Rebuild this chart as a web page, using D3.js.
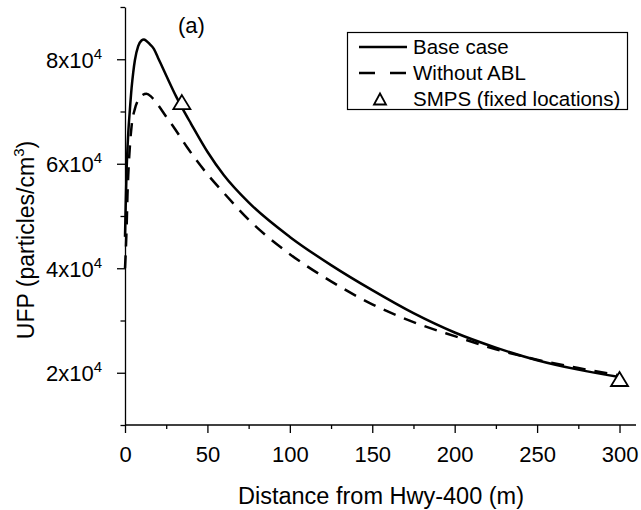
<!DOCTYPE html>
<html>
<head>
<meta charset="utf-8">
<script src="https://cdn.jsdelivr.net/npm/d3@7/dist/d3.min.js"></script>
<style>
  html, body { margin: 0; padding: 0; background: #fff; }
  svg { display: block; font-family: "Liberation Sans", Arial, sans-serif; }
  .axis path, .axis line { stroke: #000; stroke-width: 1.3; }
  .axis text { fill: #000; font-size: 22px; }
</style>
</head>
<body>
<svg id="chart" width="641" height="510"></svg>
<script>
// UFP vs distance from highway, panel (a)
var baseX = [0, 0.5, 1, 1.5, 2, 3, 4, 5, 6, 8, 10, 11.5, 13, 15, 17.5, 20, 25, 31, 35, 40, 50, 60, 75, 100, 125, 150, 175, 200, 225, 250, 275, 300];
var baseY = [46000, 53000, 59000, 63000, 66000, 70500, 74500, 77500, 79800, 82500, 83600, 83800, 83500, 82900, 82000, 80300, 76900, 72900, 70500, 67700, 62300, 57800, 52600, 46000, 40600, 35800, 31400, 27700, 24800, 22400, 20600, 19200];

var ablX = [0, 1, 1.5, 2, 3, 4, 6, 8, 10, 13, 16, 19, 25, 30, 38, 50, 60, 75, 100, 125, 150, 175, 200, 225, 250, 275, 300];
var ablY = [40000, 48000, 54000, 58000, 63500, 67200, 70500, 72200, 73000, 73400, 72800, 71700, 69000, 66800, 63000, 58000, 54400, 49300, 42700, 37500, 33100, 29700, 27000, 24500, 22500, 20900, 19500];

var smpsX = [34.5, 300];
var smpsY = [71800, 18800];

var xMajor = [0, 50, 100, 150, 200, 250, 300];
var xMinor = [25, 75, 125, 175, 225, 275];
var yMajor = [20000, 40000, 60000, 80000];
var yMinor = [10000, 30000, 50000, 70000, 90000];

var legendLabels = ['Base case', 'Without ABL', 'SMPS (fixed locations)'];

(function () {
    var svg = d3.select('#chart');

    var x = d3.scaleLinear().domain([0, 310]).range([125, 636]);
    var y = d3.scaleLinear().domain([10000, 90000]).range([425, 7]);

    // x axis: major + minor ticks
    var gx = svg.append('g').attr('class', 'axis').attr('transform', 'translate(0,425)');
    gx.call(d3.axisBottom(x).tickValues(xMajor).tickSize(8).tickSizeOuter(0).tickPadding(13));
    gx.select('.domain').attr('d', 'M' + x(0) + ',0H' + x(310));
    gx.append('g').call(d3.axisBottom(x).tickValues(xMinor).tickSize(4).tickFormat(''))
        .select('.domain').remove();

    // y axis
    var gy = svg.append('g').attr('class', 'axis').attr('transform', 'translate(125,0)');
    gy.call(d3.axisLeft(y).tickValues(yMajor).tickSize(8).tickSizeOuter(0).tickPadding(15));

    // tick labels as Nx10^4 (before the minor ticks are added)
    gy.selectAll('.tick text').each(function (d) {
        var t = d3.select(this);
        t.text(null).attr('dy', '0.36em');
        t.append('tspan').text((d / 10000) + 'x10');
        t.append('tspan').attr('dy', -9).attr('font-size', 15).text('4');
    });

    gy.append('g').call(d3.axisLeft(y).tickValues(yMinor).tickSize(4.5).tickFormat(''))
        .select('.domain').remove();

    // curves
    var line = d3.line()
        .x(function (d) { return x(d[0]); })
        .y(function (d) { return y(d[1]); })
        .curve(d3.curveMonotoneX);

    var base = baseX.map(function (v, i) { return [v, baseY[i]]; });
    var abl = ablX.map(function (v, i) { return [v, ablY[i]]; });

    svg.append('path').datum(abl).attr('d', line)
        .attr('fill', 'none').attr('stroke', '#000').attr('stroke-width', 2.5)
        .attr('stroke-dasharray', '13,9');
    svg.append('path').datum(base).attr('d', line)
        .attr('fill', 'none').attr('stroke', '#000').attr('stroke-width', 2.5);

    function tri(cx, cy, w, h) {
        return 'M' + cx + ',' + (cy - h / 2) + 'L' + (cx + w / 2) + ',' + (cy + h / 2) +
            'L' + (cx - w / 2) + ',' + (cy + h / 2) + 'Z';
    }

    smpsX.forEach(function (v, i) {
        svg.append('path').attr('d', tri(x(v), y(smpsY[i]), 17, 14))
            .attr('fill', '#fff').attr('stroke', '#000').attr('stroke-width', 1.8);
    });

    // panel label
    svg.append('text').attr('x', 178).attr('y', 33).attr('font-size', 22).text('(a)');

    // axis titles
    svg.append('text').attr('x', 381).attr('y', 504).attr('text-anchor', 'middle')
        .attr('font-size', 23.5).text('Distance from Hwy-400 (m)');

    var yt = svg.append('text').attr('transform', 'translate(34,240) rotate(-90)')
        .attr('text-anchor', 'middle').attr('font-size', 23);
    yt.append('tspan').text('UFP (particles/cm');
    yt.append('tspan').attr('dy', -10).attr('font-size', 15).text('3');
    yt.append('tspan').attr('dy', 10).text(')');

    // legend
    var lg = svg.append('g');
    lg.append('rect').attr('x', 347.5).attr('y', 32.5).attr('width', 280).attr('height', 77)
        .attr('fill', '#fff').attr('stroke', '#000').attr('stroke-width', 1.2);
    var rows = [47, 73, 99];
    lg.append('line').attr('x1', 359).attr('x2', 407).attr('y1', rows[0]).attr('y2', rows[0])
        .attr('stroke', '#000').attr('stroke-width', 2.5);
    lg.append('line').attr('x1', 359).attr('x2', 407).attr('y1', rows[1]).attr('y2', rows[1])
        .attr('stroke', '#000').attr('stroke-width', 2.5).attr('stroke-dasharray', '16,15');
    lg.append('path').attr('d', tri(380, rows[2], 12, 11))
        .attr('fill', '#fff').attr('stroke', '#000').attr('stroke-width', 1.8);
    legendLabels.forEach(function (s, i) {
        lg.append('text').attr('x', 413).attr('y', rows[i] + 7)
            .attr('font-size', 20.5).text(s);
    });
})();
</script>
</body>
</html>
